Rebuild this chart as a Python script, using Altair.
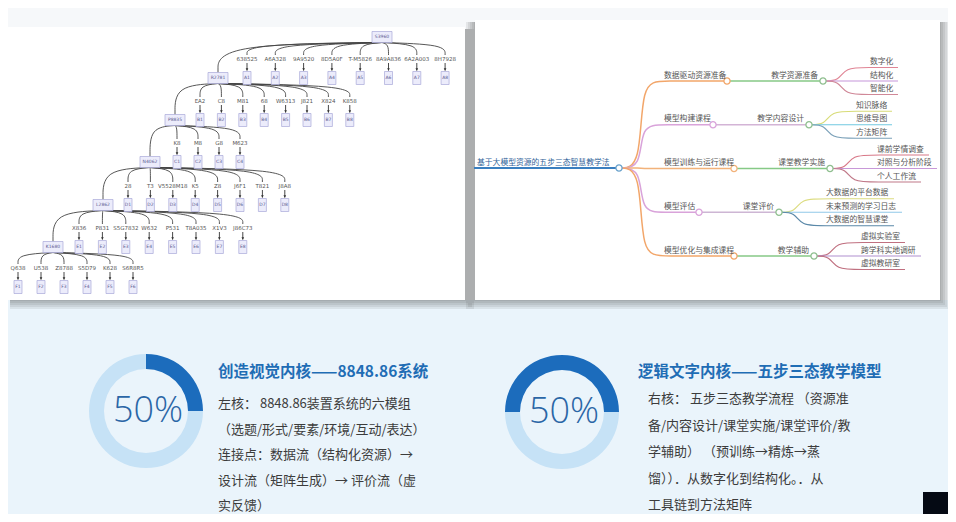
import altair as alt
import pandas as pd

# ======================= DATA =======================
# --- left screenshot: hierarchy tree (hub labels, leaf labels, edge labels)
TREE_HUBS = ["S3960", "R2781", "P8835", "N4062", "L2862", "K1680"]
TREE_LEAVES = [
    ["A1", "A2", "A3", "A4", "A5", "A6", "A7", "A8"],
    ["B1", "B2", "B3", "B4", "B5", "B6", "B7", "B8"],
    ["C1", "C2", "C3", "C4"],
    ["D1", "D2", "D3", "D4", "D5", "D6", "D7", "D8"],
    ["E1", "E2", "E3", "E4", "E5", "E6", "E7", "E8"],
    ["F1", "F2", "F3", "F4", "F5", "F6"],
]
TREE_EDGE_LABELS = [
    ["638525", "A6A328", "9A9520", "8D5A0F", "T-M5826", "8A9A836", "6A2A003", "8H7928"],
    ["EA2", "C8", "M81", "68", "W6313", "J821", "X824", "K858"],
    ["K8", "M8", "G8", "M623"],
    ["28", "T3", "V5528M18", "K5", "Z8", "J6F1", "T821", "J8A8"],
    ["X836", "P831", "S5G7832", "W632", "P531", "T8A035", "X1V3", "J86C73"],
    ["Q638", "U538", "Z8788", "S5D79", "K628", "S6R8R5"],
]

# --- right screenshot: mind map
MM_ROOT = "基于大模型资源的五步三态智慧教学法"
MM_L1 = ["数据驱动资源准备", "模型构建课程", "模型训练与运行课程", "模型评估", "模型优化与集成课程"]
MM_L2 = ["教学资源准备", "教学内容设计", "课堂教学实施", "课堂评价", "教学辅助"]
MM_L3 = [
    ["数字化", "结构化", "智能化"],
    ["知识脉络", "思维导图", "方法矩阵"],
    ["课前学情调查", "对照与分析阶段", "个人工作流"],
    ["大数据的平台数据", "未来预测的学习日志", "大数据的智慧课堂"],
    ["虚拟实验室", "跨学科实地调研", "虚拟教研室"],
]
MM_L1_COLOR = ["#f2a66a", "#d9a3da", "#f2b27a", "#d9a3da", "#f2a66a"]
MM_L2_COLOR = ["#86c986", "#d3b4d6", "#86c986", "#cdb6d4", "#86c986"]
MM_L3_COLOR = [
    ["#e08595", "#c595da", "#d08898"],
    ["#d8dc78", "#70c8e0", "#7aa0b8"],
    ["#d87888", "#c898d8", "#c07888"],
    ["#dcdc80", "#90c8e8", "#5a88a8"],
    ["#c07080", "#b090d0", "#c07080"],
]

# --- bottom: two progress rings with text
DONUT_TEXT = ["50%", "50%"]
DONUT_SHARE = [0.25, 0.5]          # dark arc share as drawn
TITLES = ["创造视觉内核——8848.86系统", "逻辑文字内核——五步三态教学模型"]
BODY_LEFT = [
    "左核： 8848.86装置系统的六模组",
    "（选题/形式/要素/环境/互动/表达）",
    "连接点：数据流（结构化资源）→",
    "设计流（矩阵生成）→ 评价流（虚",
    "实反馈）",
]
BODY_RIGHT = [
    "右核： 五步三态教学流程 （资源准",
    "备/内容设计/课堂实施/课堂评价/教",
    "学辅助） （预训练→精炼→蒸",
    "馏））．从数字化到结构化。．从",
    "工具链到方法矩阵",
]

# ======================= LAYOUT =======================
W, H = 940, 506
XS = alt.Scale(domain=[8, 948], nice=False, zero=False)
YS = alt.Scale(domain=[8, 514], reverse=True, nice=False, zero=False)
CJK = "Noto Sans CJK SC"


def X(f):
    return alt.X(f"{f}:Q", scale=XS, axis=None)


def Y(f):
    return alt.Y(f"{f}:Q", scale=YS, axis=None)


# tree geometry
HUB_POS = [(382, 37), (218, 78), (175, 120), (150, 162), (103, 205), (53, 247)]
ROW_Y = [78, 120, 162, 205, 247, 287]
ROW_X0 = [247, 200, 177, 128, 79, 18]
ROW_DX = [28.3, 21.4, 21.0, 22.4, 23.4, 23.0]
HUB_W, HUB_H = 20, 11
LEAF_W, LEAF_H = 8, 13

# ---------- background / panels ----------
rects = [
    dict(x=8, x2=948, y=8, y2=306, c="#f6f8fa", o=1.0),
    dict(x=8, x2=948, y=300, y2=514, c="#eaf4fb", o=1.0),
]
for s in [1, 3, 5, 7, 9]:
    rects.append(dict(x=10, x2=465 + s, y=29, y2=300 + s, c="#3a3a3a", o=0.09))
    rects.append(dict(x=475 - s, x2=940 + s, y=22, y2=300 + s, c="#3a3a3a", o=0.09))
rects.append(dict(x=8, x2=465, y=27, y2=300, c="#ffffff", o=1.0))
rects.append(dict(x=475, x2=940, y=20, y2=300, c="#ffffff", o=1.0))
rects.append(dict(x=923, x2=953, y=492, y2=520, c="#050a14", o=1.0))
df_rect = pd.DataFrame(rects)

rect_layer = alt.Chart(df_rect).mark_rect().encode(
    x=X("x"), x2="x2", y=Y("y"), y2="y2",
    color=alt.Color("c:N", scale=None),
    opacity=alt.Opacity("o:Q", scale=None),
)

# ---------- tree ----------
boxes, box_txt, edge_pts, edge_txt, arrows, heads = [], [], [], [], [], []
eid = 0
for k, hub in enumerate(TREE_HUBS):
    hx, hy = HUB_POS[k]
    boxes.append(dict(x=hx - HUB_W / 2, x2=hx + HUB_W / 2, y=hy - HUB_H / 2, y2=hy + HUB_H / 2))
    box_txt.append(dict(x=hx, y=hy, t=hub))
    ry = ROW_Y[k]
    ly = ry - 19
    for j, (leaf, lab) in enumerate(zip(TREE_LEAVES[k], TREE_EDGE_LABELS[k])):
        cx = ROW_X0[k] + j * ROW_DX[k]
        boxes.append(dict(x=cx - LEAF_W / 2, x2=cx + LEAF_W / 2, y=ry - LEAF_H / 2, y2=ry + LEAF_H / 2))
        box_txt.append(dict(x=cx, y=ry, t=leaf))
        edge_txt.append(dict(x=cx, y=ly, t=lab))
        for i, (px, py) in enumerate([(hx, hy + HUB_H / 2), (cx, hy + HUB_H / 2 + 2), (cx, ly - 4)]):
            edge_pts.append(dict(id=eid, i=i, x=px, y=py))
        eid += 1
        arrows.append(dict(id=eid, i=0, x=cx, y=ly + 4))
        arrows.append(dict(id=eid, i=1, x=cx, y=ry - LEAF_H / 2 - 1))
        eid += 1
        heads.append(dict(x=cx, y=ry - LEAF_H / 2 - 2))
    if k + 1 < len(TREE_HUBS):
        nx, ny = HUB_POS[k + 1]
        for i, (px, py) in enumerate([(hx, hy + HUB_H / 2), (nx, hy + HUB_H / 2 + 2), (nx, ny - HUB_H / 2)]):
            edge_pts.append(dict(id=eid, i=i, x=px, y=py))
        eid += 1

tree_edges = alt.Chart(pd.DataFrame(edge_pts)).mark_line(
    interpolate="basis", color="#444444", strokeWidth=0.9
).encode(x=X("x"), y=Y("y"), detail="id:N", order="i:Q")
tree_arrows = alt.Chart(pd.DataFrame(arrows)).mark_line(color="#333333", strokeWidth=0.9).encode(
    x=X("x"), y=Y("y"), detail="id:N", order="i:Q")
tree_heads = alt.Chart(pd.DataFrame(heads)).mark_point(
    shape="triangle-down", size=7, filled=True, color="#333333", opacity=1
).encode(x=X("x"), y=Y("y"))
tree_boxes = alt.Chart(pd.DataFrame(boxes)).mark_rect(
    fill="#ececfb", stroke="#a9a9d8", strokeWidth=0.7
).encode(x=X("x"), x2="x2", y=Y("y"), y2="y2")
tree_box_txt = alt.Chart(pd.DataFrame(box_txt)).mark_text(
    fontSize=4.5, color="#5a5a90", font="DejaVu Sans"
).encode(x=X("x"), y=Y("y"), text="t:N")
tree_edge_txt = alt.Chart(pd.DataFrame(edge_txt)).mark_text(
    fontSize=5.5, color="#555555", font="DejaVu Sans"
).encode(x=X("x"), y=Y("y"), text="t:N")

# ---------- mind map ----------
MM_RX, MM_RY = 619, 168
MM_Y0, MM_DY = 81, 43.75
MM_TX = 663
mm_lines, mm_circ, mm_txt = [], [], []
lid = 0
for i, px in enumerate([474, MM_RX]):
    mm_lines.append(dict(id=lid, i=i, x=px, y=MM_RY, c="#3a7fc0", w=2.2))
lid += 1
mm_txt.append(dict(x=477, y=MM_RY - 5.5, t=MM_ROOT, c="#2f5f98", a="left"))
for n, (l1, l2) in enumerate(zip(MM_L1, MM_L2)):
    y1 = MM_Y0 + n * MM_DY
    cx1 = MM_TX + 7 * len(l1) + 8
    cx2 = cx1 + 48 + 8 * len(l2)
    tx = cx2 + 45
    pts = [(MM_RX, MM_RY), (MM_RX + 22, MM_RY), (MM_RX + 22, y1), (MM_TX, y1), (cx1, y1)]
    for i, (px, py) in enumerate(pts):
        mm_lines.append(dict(id=lid, i=i, x=px, y=py, c=MM_L1_COLOR[n], w=1.5))
    lid += 1
    for i, px in enumerate([cx1, cx2]):
        mm_lines.append(dict(id=lid, i=i, x=px, y=y1, c=MM_L2_COLOR[n], w=1.5))
    lid += 1
    mm_txt.append(dict(x=MM_TX + 1, y=y1 - 5.5, t=l1, c="#555555", a="left"))
    mm_txt.append(dict(x=cx2 - 5, y=y1 - 5.5, t=l2, c="#555555", a="right"))
    for m, l3 in enumerate(MM_L3[n]):
        y3 = y1 + (m - 1) * 13.5
        tend = tx + 8 * len(l3) + 6
        pts = [(cx2, y1), (cx2 + 16, y1), (cx2 + 22, y3), (tx, y3), (tend, y3)]
        for i, (px, py) in enumerate(pts):
            mm_lines.append(dict(id=lid, i=i, x=px, y=py, c=MM_L3_COLOR[n][m], w=1.2))
        lid += 1
        mm_txt.append(dict(x=tx + 2, y=y3 - 5.5, t=l3, c="#555555", a="left"))
    mm_circ.append(dict(x=cx1, y=y1, c=MM_L1_COLOR[n]))
    mm_circ.append(dict(x=cx2, y=y1, c="#8fbf8f"))
mm_circ.append(dict(x=MM_RX, y=MM_RY, c="#6aa2cc"))

df_mmt = pd.DataFrame(mm_txt)
mm_line_layer = alt.Chart(pd.DataFrame(mm_lines)).mark_line(interpolate="basis").encode(
    x=X("x"), y=Y("y"), detail="id:N", order="i:Q",
    color=alt.Color("c:N", scale=None), strokeWidth=alt.StrokeWidth("w:Q", scale=None))
mm_circ_layer = alt.Chart(pd.DataFrame(mm_circ)).mark_point(
    shape="circle", size=38, filled=False, fill="#ffffff", fillOpacity=1, strokeWidth=1.3, opacity=1
).encode(x=X("x"), y=Y("y"), stroke=alt.Stroke("c:N", scale=None))
mm_txt_l = alt.Chart(df_mmt[df_mmt.a == "left"]).mark_text(
    align="left", baseline="middle", fontSize=7.8, font=CJK
).encode(x=X("x"), y=Y("y"), text="t:N", color=alt.Color("c:N", scale=None))
mm_txt_r = alt.Chart(df_mmt[df_mmt.a == "right"]).mark_text(
    align="right", baseline="middle", fontSize=7.8, font=CJK
).encode(x=X("x"), y=Y("y"), text="t:N", color=alt.Color("c:N", scale=None))

# ---------- donuts ----------
DONUT_C = [(146, 411), (562, 412)]
DONUT_START = [0.0, 0.75]
arcs = []
for d, (share, start) in enumerate(zip(DONUT_SHARE, DONUT_START)):
    cx, cy = DONUT_C[d]
    arcs.append(dict(x=cx, y=cy, t0=start, t1=start + share, c="#1c6cbc"))
    arcs.append(dict(x=cx, y=cy, t0=start + share, t1=start + 1, c="#c6e2f6"))
arc_layer = alt.Chart(pd.DataFrame(arcs)).mark_arc(radius=57, radius2=42).encode(
    x=X("x"), y=Y("y"),
    theta=alt.Theta("t0:Q", scale=alt.Scale(domain=[0, 1], range=[0, 6.283185307])),
    theta2="t1:Q",
    color=alt.Color("c:N", scale=None),
)
pct = pd.DataFrame([dict(x=DONUT_C[d][0] + 2, y=DONUT_C[d][1], t=DONUT_TEXT[d]) for d in range(2)])
pct_layer = alt.Chart(pct).mark_text(
    fontSize=36, font="Open Sans", fontWeight=300, color="#2a66a6", baseline="middle"
).encode(x=X("x"), y=Y("y"), text="t:N")

title_df = pd.DataFrame([dict(x=218, y=372, t=TITLES[0]), dict(x=638, y=372, t=TITLES[1])])
title_layer = alt.Chart(title_df).mark_text(
    align="left", baseline="middle", fontSize=15.5, font=CJK, fontWeight="bold", color="#1f6db5"
).encode(x=X("x"), y=Y("y"), text="t:N")

body = [dict(x=218, y=404 + 25.5 * i, t=s) for i, s in enumerate(BODY_LEFT)]
body += [dict(x=648, y=399 + 26.5 * i, t=s) for i, s in enumerate(BODY_RIGHT)]
body_layer = alt.Chart(pd.DataFrame(body)).mark_text(
    align="left", baseline="middle", fontSize=13, font=CJK, color="#3c3c3c"
).encode(x=X("x"), y=Y("y"), text="t:N")

chart = alt.layer(
    rect_layer,
    tree_edges, tree_arrows, tree_heads, tree_boxes, tree_box_txt, tree_edge_txt,
    mm_line_layer, mm_circ_layer, mm_txt_l, mm_txt_r,
    arc_layer, pct_layer, title_layer, body_layer,
).properties(
    width=W, height=H, padding=0,
    autosize=alt.AutoSizeParams(type="none"),
    background="#ffffff",
).configure_view(stroke=None)

chart.save("out.html", embed_options={"renderer": "svg", "actions": False})
